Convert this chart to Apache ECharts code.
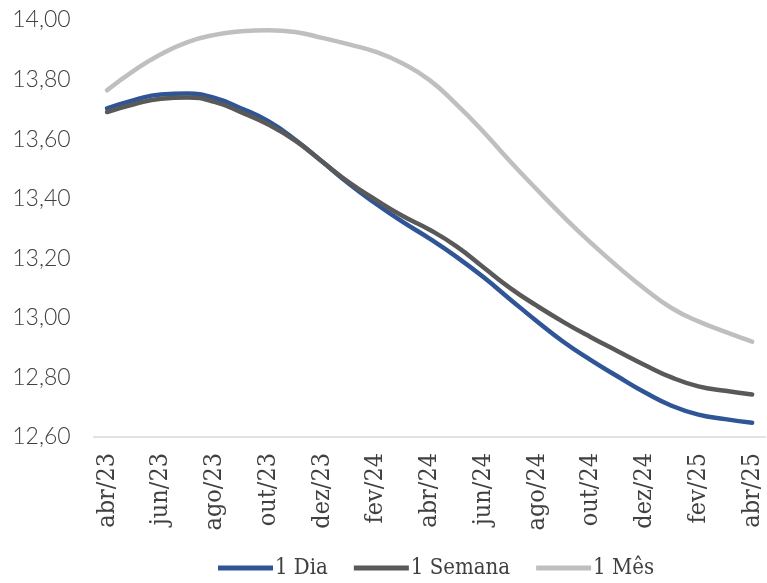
<!DOCTYPE html>
<html>
<head>
<meta charset="utf-8">
<script src="https://cdn.jsdelivr.net/npm/echarts@6/dist/echarts.min.js"></script>
<style>
html,body{margin:0;padding:0;background:#fff;}
#chart{width:767px;height:583px;}
</style>
</head>
<body>
<div id="chart"></div>
<script>
const categories = ["abr/23","mai/23","jun/23","jul/23","ago/23","set/23","out/23","nov/23","dez/23","jan/24","fev/24","mar/24","abr/24","mai/24","jun/24","jul/24","ago/24","set/24","out/24","nov/24","dez/24","jan/25","fev/25","mar/25","abr/25"];
const dia = [13.703,13.731,13.750,13.753,13.738,13.703,13.660,13.598,13.525,13.450,13.383,13.322,13.266,13.205,13.137,13.062,12.988,12.918,12.858,12.803,12.750,12.705,12.675,12.660,12.648];
const semana = [13.691,13.717,13.736,13.740,13.725,13.690,13.649,13.595,13.525,13.455,13.396,13.342,13.296,13.240,13.170,13.100,13.040,12.985,12.935,12.888,12.842,12.800,12.770,12.755,12.743];
const mes = [13.764,13.830,13.885,13.926,13.950,13.962,13.966,13.960,13.940,13.918,13.893,13.854,13.798,13.717,13.625,13.525,13.430,13.338,13.252,13.172,13.098,13.033,12.988,12.953,12.920];
const seriesNames = ["1 Dia","1 Semana","1 Mês"];
const colors = ["#2F5597","#595959","#BFBFBF"];

const serifFont = "'DejaVu Serif Condensed', 'DejaVu Serif', serif";
const chart = echarts.init(document.getElementById('chart'), null, {renderer:'canvas'});
const mk = (name, data, color) => ({
  name, type:'line', data, smooth:true, symbol:'none',
  lineStyle:{color, width:4.5, cap:'round'}, itemStyle:{color}
});
chart.setOption({
  animation:false,
  grid:{left:93.6, right:1.4, top:20, bottom:146, containLabel:false},
  legend:{
    data:seriesNames, left:213, top:552, icon:'rect', itemWidth:55, itemHeight:5, itemGap:26,
    textStyle:{fontFamily:serifFont, fontSize:22, color:'#404040', padding:[0,0,0,-3]}
  },
  xAxis:{
    type:'category', data:categories, boundaryGap:true,
    axisLine:{lineStyle:{color:'#D9D9D9', width:1.5}},
    axisTick:{show:false},
    axisLabel:{interval:1, rotate:90, margin:16, fontFamily:serifFont, fontSize:25, color:'#404040'}
  },
  yAxis:{
    type:'value', min:12.6, max:14.0, interval:0.2,
    axisLine:{show:false}, axisTick:{show:false}, splitLine:{show:false},
    axisLabel:{margin:23, fontFamily:'Lato', fontSize:23, fontWeight:300, color:'#404040',
      formatter:v=>v.toFixed(2).replace('.',',')}
  },
  series:[mk(seriesNames[0],dia,colors[0]), mk(seriesNames[1],semana,colors[1]), mk(seriesNames[2],mes,colors[2])]
});
</script>
</body>
</html>
